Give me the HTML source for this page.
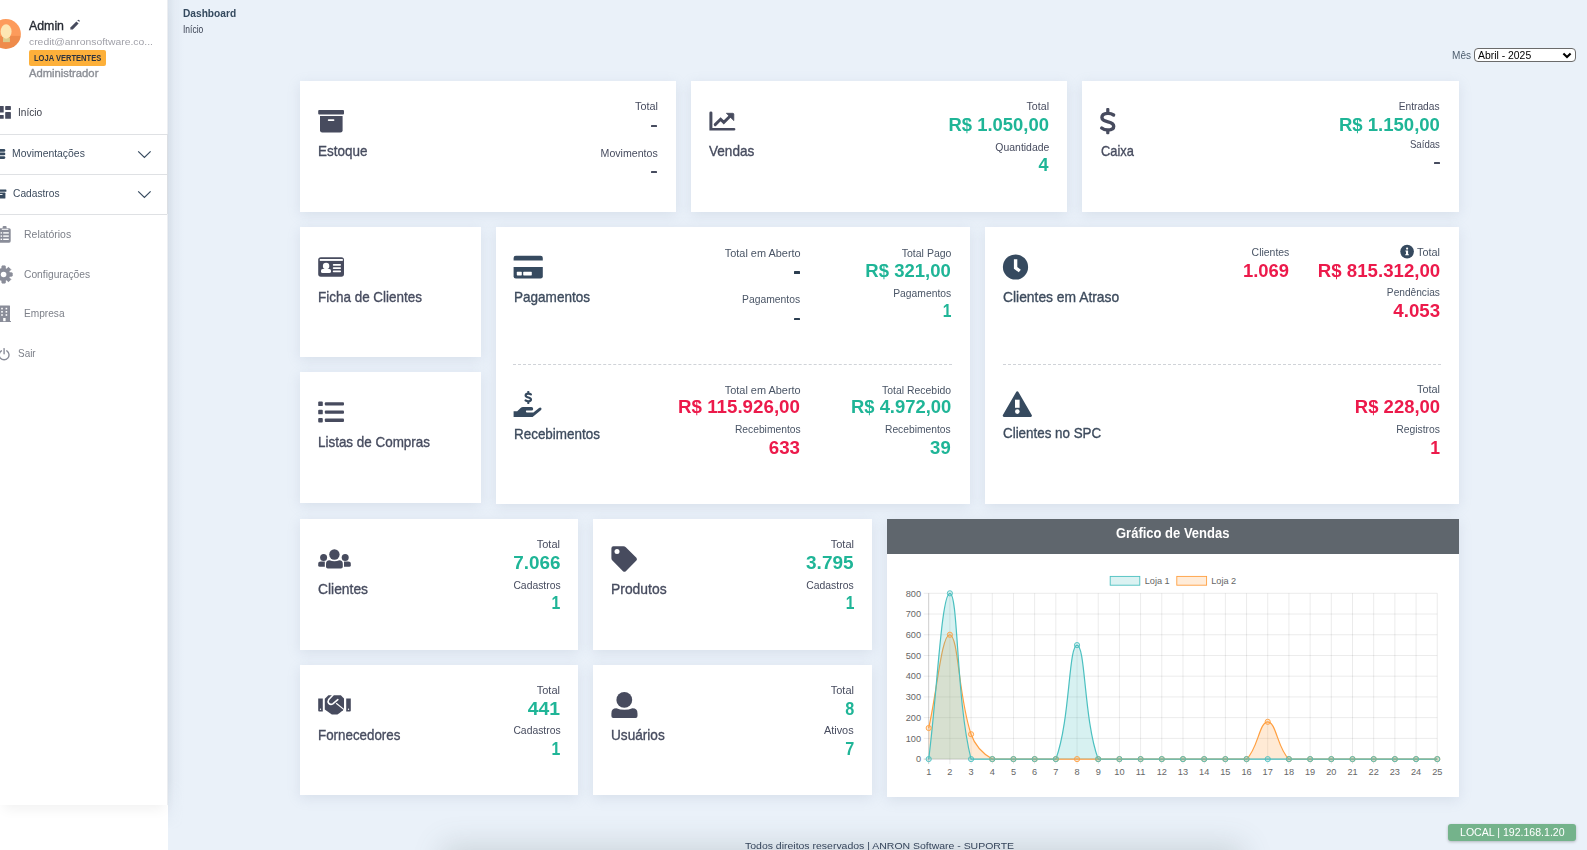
<!DOCTYPE html>
<html><head><meta charset="utf-8"><title>Dashboard</title>
<style>
*{margin:0;padding:0;box-sizing:border-box}
html,body{width:1587px;height:850px;overflow:hidden}
body{background:#fff;font-family:"Liberation Sans",sans-serif;position:relative}
.t{position:absolute;white-space:nowrap;line-height:1}
.card{position:absolute;background:#fff;box-shadow:0 3px 12px rgba(140,155,180,.2)}
.ic{position:absolute;overflow:visible}
.dash{position:absolute;height:0;border-top:1px dashed #d0d3d8}
.sel{position:absolute;border:1px solid #6b6b6b;border-radius:4px;background:#fff}
#sidebar{position:absolute;left:0;top:0;width:168px;height:805px;background:#fff;border-right:1px solid #eceef1;box-shadow:0 8px 12px -4px rgba(0,0,0,.06)}
#main{position:absolute;left:168px;top:0;width:1419px;height:850px;background:#eaf1f9;}
#mshadow{position:absolute;left:168px;top:0;width:16px;height:830px;background:linear-gradient(to right,rgba(140,155,175,.17),rgba(140,155,175,.06) 40%,rgba(140,155,175,0));-webkit-mask-image:linear-gradient(to bottom,#000 0,#000 780px,transparent 830px)}
.hl{position:absolute;left:0;width:167px;height:1px;background:#dfe1e4}
#ov{position:absolute;left:0;top:0;pointer-events:none}
.ax{font-family:"Liberation Sans",sans-serif;font-size:9.2px;fill:#666}
</style></head><body>
<div id="main"></div><div id="mshadow"></div>
<div id="sidebar"></div>
<div class="hl" style="top:134px"></div><div class="hl" style="top:174px"></div><div class="hl" style="top:213.5px"></div><div style="position:absolute;left:167px;top:134px;width:1px;height:80px;background:#dcdfe3"></div>
<div class="card" style="left:300px;top:81px;width:376px;height:131px;"></div>
<div class="card" style="left:691px;top:81px;width:376px;height:131px;"></div>
<div class="card" style="left:1082px;top:81px;width:377px;height:131px;"></div>
<div class="card" style="left:300px;top:227px;width:181px;height:130px;"></div>
<div class="card" style="left:300px;top:372px;width:181px;height:131px;"></div>
<div class="card" style="left:496px;top:227px;width:474px;height:277px;"></div>
<div class="card" style="left:985px;top:227px;width:474px;height:277px;"></div>
<div class="card" style="left:300px;top:519px;width:278px;height:131px;"></div>
<div class="card" style="left:593px;top:519px;width:279px;height:131px;"></div>
<div class="card" style="left:300px;top:665px;width:278px;height:130px;"></div>
<div class="card" style="left:593px;top:665px;width:279px;height:130px;"></div>
<div class="card" style="left:887px;top:519px;width:572px;height:278px;"></div>
<div class="t" style="left:182.70px;top:8.15px;font-size:11.05px;font-weight:700;color:#34495e;transform:scaleX(0.9203);transform-origin:left 0;">Dashboard</div>
<div class="t" style="left:182.70px;top:24.91px;font-size:10.03px;font-weight:400;color:#3c4455;transform:scaleX(0.8469);transform-origin:left 0;">Início</div>
<div class="t" style="left:1452.00px;top:50.32px;font-size:10.61px;font-weight:400;color:#4d5d6e;transform:scaleX(0.9478);transform-origin:left 0;">Mês</div>
<div class="sel" style="left:1474px;top:48px;width:102px;height:14px;"></div>
<div class="t" style="left:1478.00px;top:49.50px;font-size:11.34px;font-weight:400;color:#000;transform:scaleX(0.9176);transform-origin:left 0;">Abril - 2025</div>
<div class="t" style="left:318.00px;top:143.53px;font-size:14.97px;font-weight:400;color:#474c5f;transform:scaleX(0.8992);transform-origin:left 0;-webkit-text-stroke:0.35px #474c5f;">Estoque</div>
<div class="t" style="right:929.00px;top:101.27px;font-size:10.90px;font-weight:400;color:#474c5f;transform:scaleX(0.9988);transform-origin:right 0;">Total</div>
<div style="position:absolute;left:651.3px;top:125px;width:5.7000000000000455px;height:2.4000000000000057px;background:#474c5f;border-radius:.5px"></div>
<div class="t" style="right:929.00px;top:148.27px;font-size:10.90px;font-weight:400;color:#474c5f;transform:scaleX(0.9734);transform-origin:right 0;">Movimentos</div>
<div style="position:absolute;left:651.3px;top:170.6px;width:5.7000000000000455px;height:2.4000000000000057px;background:#474c5f;border-radius:.5px"></div>
<div class="t" style="left:709.00px;top:143.53px;font-size:14.97px;font-weight:400;color:#474c5f;transform:scaleX(0.9069);transform-origin:left 0;-webkit-text-stroke:0.35px #474c5f;">Vendas</div>
<div class="t" style="right:538.00px;top:101.27px;font-size:10.90px;font-weight:400;color:#474c5f;transform:scaleX(0.9771);transform-origin:right 0;">Total</div>
<div class="t" style="right:538.00px;top:116.01px;font-size:18.90px;font-weight:700;color:#1fb597;transform:scaleX(0.9761);transform-origin:right 0;">R$ 1.050,00</div>
<div class="t" style="right:538.00px;top:142.27px;font-size:10.90px;font-weight:400;color:#474c5f;transform:scaleX(0.9580);transform-origin:right 0;">Quantidade</div>
<div class="t" style="right:538.00px;top:156.01px;font-size:18.90px;font-weight:700;color:#1fb597;transform:scaleX(0.9516);transform-origin:right 0;">4</div>
<div class="t" style="left:1100.80px;top:143.73px;font-size:14.97px;font-weight:400;color:#474c5f;transform:scaleX(0.8595);transform-origin:left 0;-webkit-text-stroke:0.35px #474c5f;">Caixa</div>
<div class="t" style="right:147.00px;top:101.27px;font-size:10.90px;font-weight:400;color:#474c5f;transform:scaleX(0.9397);transform-origin:right 0;">Entradas</div>
<div class="t" style="right:147.00px;top:116.01px;font-size:18.90px;font-weight:700;color:#1fb597;transform:scaleX(0.9810);transform-origin:right 0;">R$ 1.150,00</div>
<div class="t" style="right:147.00px;top:139.27px;font-size:10.90px;font-weight:400;color:#474c5f;transform:scaleX(0.8839);transform-origin:right 0;">Saídas</div>
<div style="position:absolute;left:1434.2px;top:162px;width:5.7999999999999545px;height:2.4000000000000057px;background:#474c5f;border-radius:.5px"></div>
<div class="t" style="left:318.00px;top:290.43px;font-size:14.97px;font-weight:400;color:#474c5f;transform:scaleX(0.8991);transform-origin:left 0;-webkit-text-stroke:0.35px #474c5f;">Ficha de Clientes</div>
<div class="t" style="left:318.00px;top:435.33px;font-size:14.97px;font-weight:400;color:#474c5f;transform:scaleX(0.8973);transform-origin:left 0;-webkit-text-stroke:0.35px #474c5f;">Listas de Compras</div>
<div class="t" style="left:513.50px;top:290.43px;font-size:14.97px;font-weight:400;color:#3d4b5d;transform:scaleX(0.9041);transform-origin:left 0;-webkit-text-stroke:0.35px #3d4b5d;">Pagamentos</div>
<div class="t" style="left:513.50px;top:427.03px;font-size:14.97px;font-weight:400;color:#3d4b5d;transform:scaleX(0.8976);transform-origin:left 0;-webkit-text-stroke:0.35px #3d4b5d;">Recebimentos</div>
<div class="t" style="right:786.70px;top:247.67px;font-size:10.90px;font-weight:400;color:#4a5566;transform:scaleX(1.0034);transform-origin:right 0;">Total em Aberto</div>
<div style="position:absolute;left:793.9px;top:271.4px;width:6.100000000000023px;height:2.6000000000000227px;background:#2c3e50;border-radius:.5px"></div>
<div class="t" style="right:786.70px;top:293.77px;font-size:10.90px;font-weight:400;color:#4a5566;transform:scaleX(0.9492);transform-origin:right 0;">Pagamentos</div>
<div style="position:absolute;left:793.9px;top:317.5px;width:6.100000000000023px;height:2.6000000000000227px;background:#2c3e50;border-radius:.5px"></div>
<div class="t" style="right:636.00px;top:247.67px;font-size:10.90px;font-weight:400;color:#4a5566;transform:scaleX(0.9667);transform-origin:right 0;">Total Pago</div>
<div class="t" style="right:636.00px;top:262.15px;font-size:18.60px;font-weight:700;color:#1fb597;transform:scaleX(0.9958);transform-origin:right 0;">R$ 321,00</div>
<div class="t" style="right:636.00px;top:287.97px;font-size:10.90px;font-weight:400;color:#4a5566;transform:scaleX(0.9476);transform-origin:right 0;">Pagamentos</div>
<div class="t" style="right:636.00px;top:302.05px;font-size:18.60px;font-weight:700;color:#1fb597;transform:scaleX(0.8408);transform-origin:right 0;">1</div>
<div class="t" style="right:786.70px;top:384.57px;font-size:10.90px;font-weight:400;color:#4a5566;transform:scaleX(1.0034);transform-origin:right 0;">Total em Aberto</div>
<div class="t" style="right:786.70px;top:398.25px;font-size:18.60px;font-weight:700;color:#ec1a4b;transform:scaleX(1.0087);transform-origin:right 0;">R$ 115.926,00</div>
<div class="t" style="right:786.70px;top:424.37px;font-size:10.90px;font-weight:400;color:#4a5566;transform:scaleX(0.9443);transform-origin:right 0;">Recebimentos</div>
<div class="t" style="right:786.70px;top:438.85px;font-size:18.60px;font-weight:700;color:#ec1a4b;transform:scaleX(1.0083);transform-origin:right 0;">633</div>
<div class="t" style="right:636.00px;top:384.57px;font-size:10.90px;font-weight:400;color:#4a5566;transform:scaleX(0.9568);transform-origin:right 0;">Total Recebido</div>
<div class="t" style="right:636.00px;top:398.25px;font-size:18.60px;font-weight:700;color:#1fb597;transform:scaleX(0.9904);transform-origin:right 0;">R$ 4.972,00</div>
<div class="t" style="right:636.00px;top:424.37px;font-size:10.90px;font-weight:400;color:#4a5566;transform:scaleX(0.9428);transform-origin:right 0;">Recebimentos</div>
<div class="t" style="right:636.00px;top:438.85px;font-size:18.60px;font-weight:700;color:#1fb597;transform:scaleX(0.9954);transform-origin:right 0;">39</div>
<div class="dash" style="left:513px;top:364px;width:439px;"></div>
<div class="t" style="left:1003.00px;top:289.73px;font-size:14.97px;font-weight:400;color:#3d4b5d;transform:scaleX(0.9248);transform-origin:left 0;-webkit-text-stroke:0.35px #3d4b5d;">Clientes em Atraso</div>
<div class="t" style="left:1003.00px;top:426.23px;font-size:14.97px;font-weight:400;color:#3d4b5d;transform:scaleX(0.8940);transform-origin:left 0;-webkit-text-stroke:0.35px #3d4b5d;">Clientes no SPC</div>
<div class="t" style="right:297.70px;top:247.47px;font-size:10.90px;font-weight:400;color:#4a5566;transform:scaleX(0.9598);transform-origin:right 0;">Clientes</div>
<div class="t" style="right:297.70px;top:262.44px;font-size:18.02px;font-weight:700;color:#ec1a4b;transform:scaleX(1.0221);transform-origin:right 0;">1.069</div>
<div class="t" style="right:146.60px;top:247.47px;font-size:10.90px;font-weight:400;color:#4a5566;transform:scaleX(0.9988);transform-origin:right 0;">Total</div>
<div class="t" style="right:146.60px;top:262.44px;font-size:18.02px;font-weight:700;color:#ec1a4b;transform:scaleX(1.0351);transform-origin:right 0;">R$ 815.312,00</div>
<div class="t" style="right:146.60px;top:286.97px;font-size:10.90px;font-weight:400;color:#4a5566;transform:scaleX(0.9320);transform-origin:right 0;">Pendências</div>
<div class="t" style="right:146.60px;top:302.24px;font-size:18.02px;font-weight:700;color:#ec1a4b;transform:scaleX(1.0376);transform-origin:right 0;">4.053</div>
<div class="dash" style="left:1003px;top:364px;width:438px;"></div>
<div class="t" style="right:146.70px;top:383.87px;font-size:10.90px;font-weight:400;color:#4a5566;transform:scaleX(1.0032);transform-origin:right 0;">Total</div>
<div class="t" style="right:146.70px;top:398.14px;font-size:18.02px;font-weight:700;color:#ec1a4b;transform:scaleX(1.0256);transform-origin:right 0;">R$ 228,00</div>
<div class="t" style="right:146.70px;top:423.77px;font-size:10.90px;font-weight:400;color:#4a5566;transform:scaleX(0.9534);transform-origin:right 0;">Registros</div>
<div class="t" style="right:146.70px;top:438.74px;font-size:18.02px;font-weight:700;color:#ec1a4b;transform:scaleX(0.9777);transform-origin:right 0;">1</div>
<div class="t" style="left:318.00px;top:581.83px;font-size:14.97px;font-weight:400;color:#474c5f;transform:scaleX(0.9244);transform-origin:left 0;-webkit-text-stroke:0.35px #474c5f;">Clientes</div>
<div class="t" style="right:1026.70px;top:538.77px;font-size:10.90px;font-weight:400;color:#474c5f;transform:scaleX(1.0119);transform-origin:right 0;">Total</div>
<div class="t" style="right:1026.70px;top:553.95px;font-size:18.60px;font-weight:700;color:#1fb597;transform:scaleX(1.0159);transform-origin:right 0;">7.066</div>
<div class="t" style="right:1026.70px;top:579.67px;font-size:10.90px;font-weight:400;color:#474c5f;transform:scaleX(0.9520);transform-origin:right 0;">Cadastros</div>
<div class="t" style="right:1026.70px;top:593.75px;font-size:18.60px;font-weight:700;color:#1fb597;transform:scaleX(0.8505);transform-origin:right 0;">1</div>
<div class="t" style="left:611.00px;top:581.83px;font-size:14.97px;font-weight:400;color:#474c5f;transform:scaleX(0.9279);transform-origin:left 0;-webkit-text-stroke:0.35px #474c5f;">Produtos</div>
<div class="t" style="right:733.00px;top:538.77px;font-size:10.90px;font-weight:400;color:#474c5f;transform:scaleX(1.0119);transform-origin:right 0;">Total</div>
<div class="t" style="right:733.00px;top:553.95px;font-size:18.60px;font-weight:700;color:#1fb597;transform:scaleX(1.0202);transform-origin:right 0;">3.795</div>
<div class="t" style="right:733.00px;top:579.67px;font-size:10.90px;font-weight:400;color:#474c5f;transform:scaleX(0.9560);transform-origin:right 0;">Cadastros</div>
<div class="t" style="right:733.00px;top:593.75px;font-size:18.60px;font-weight:700;color:#1fb597;transform:scaleX(0.8408);transform-origin:right 0;">1</div>
<div class="t" style="left:318.00px;top:727.53px;font-size:14.97px;font-weight:400;color:#474c5f;transform:scaleX(0.8920);transform-origin:left 0;-webkit-text-stroke:0.35px #474c5f;">Fornecedores</div>
<div class="t" style="right:1026.70px;top:685.27px;font-size:10.90px;font-weight:400;color:#474c5f;transform:scaleX(1.0119);transform-origin:right 0;">Total</div>
<div class="t" style="right:1026.70px;top:700.05px;font-size:18.60px;font-weight:700;color:#1fb597;transform:scaleX(1.0405);transform-origin:right 0;">441</div>
<div class="t" style="right:1026.70px;top:725.37px;font-size:10.90px;font-weight:400;color:#474c5f;transform:scaleX(0.9520);transform-origin:right 0;">Cadastros</div>
<div class="t" style="right:1026.70px;top:739.85px;font-size:18.60px;font-weight:700;color:#1fb597;transform:scaleX(0.8505);transform-origin:right 0;">1</div>
<div class="t" style="left:611.00px;top:727.53px;font-size:14.97px;font-weight:400;color:#474c5f;transform:scaleX(0.9090);transform-origin:left 0;-webkit-text-stroke:0.35px #474c5f;">Usuários</div>
<div class="t" style="right:733.00px;top:685.27px;font-size:10.90px;font-weight:400;color:#474c5f;transform:scaleX(1.0119);transform-origin:right 0;">Total</div>
<div class="t" style="right:733.00px;top:700.05px;font-size:18.60px;font-weight:700;color:#1fb597;transform:scaleX(0.8698);transform-origin:right 0;">8</div>
<div class="t" style="right:733.00px;top:725.37px;font-size:10.90px;font-weight:400;color:#474c5f;transform:scaleX(1.0038);transform-origin:right 0;">Ativos</div>
<div class="t" style="right:733.00px;top:739.85px;font-size:18.60px;font-weight:700;color:#1fb597;transform:scaleX(0.8698);transform-origin:right 0;">7</div>
<div style="position:absolute;left:887px;top:519px;width:572px;height:34.5px;background:#5f666d"></div>
<div class="t" style="left:1116.00px;top:525.73px;font-size:14.97px;font-weight:700;color:#fff;transform:scaleX(0.8681);transform-origin:left 0;">Gráfico de Vendas</div>
<div class="t" style="left:29.00px;top:19.43px;font-size:13.08px;font-weight:400;color:#262a33;transform:scaleX(0.9439);transform-origin:left 0;-webkit-text-stroke:0.35px #262a33;">Admin</div>
<div class="t" style="left:29.00px;top:36.93px;font-size:9.88px;font-weight:400;color:#a0a0a8;transform:scaleX(1.0485);transform-origin:left 0;">credit@anronsoftware.co...</div>
<div style="position:absolute;left:29px;top:50.2px;width:77px;height:15.5px;background:#fdb03a;border-radius:2px"></div>
<div class="t" style="left:33.70px;top:54.36px;font-size:8.43px;font-weight:700;color:#2e3440;transform:scaleX(0.8961);transform-origin:left 0;">LOJA VERTENTES</div>
<div class="t" style="left:29.00px;top:68.89px;font-size:10.17px;font-weight:400;color:#8c8f96;transform:scaleX(1.1072);transform-origin:left 0;-webkit-text-stroke:0.35px #8c8f96;">Administrador</div>
<div class="t" style="left:17.60px;top:107.10px;font-size:11.34px;font-weight:400;color:#3a3d48;transform:scaleX(0.8894);transform-origin:left 0;">Início</div>
<div class="t" style="left:11.60px;top:147.90px;font-size:11.34px;font-weight:400;color:#3d4b5d;transform:scaleX(0.9182);transform-origin:left 0;">Movimentações</div>
<div class="t" style="left:12.70px;top:187.60px;font-size:11.34px;font-weight:400;color:#3d4b5d;transform:scaleX(0.9018);transform-origin:left 0;">Cadastros</div>
<div class="t" style="left:23.80px;top:228.90px;font-size:11.34px;font-weight:400;color:#7d8089;transform:scaleX(0.9247);transform-origin:left 0;">Relatórios</div>
<div class="t" style="left:23.80px;top:268.90px;font-size:11.34px;font-weight:400;color:#7d8089;transform:scaleX(0.9055);transform-origin:left 0;">Configurações</div>
<div class="t" style="left:23.80px;top:307.90px;font-size:11.34px;font-weight:400;color:#7d8089;transform:scaleX(0.8949);transform-origin:left 0;">Empresa</div>
<div class="t" style="left:17.60px;top:347.90px;font-size:11.34px;font-weight:400;color:#7d8089;transform:scaleX(0.8779);transform-origin:left 0;">Sair</div>
<div style="position:absolute;left:450px;top:853px;width:785px;height:40px;background:#d3dadc;box-shadow:0 0 30px 8px rgba(80,98,98,.2)"></div>
<div class="t" style="left:744.50px;top:840.68px;font-size:9.59px;font-weight:400;color:#34445a;transform:scaleX(1.0933);transform-origin:left 0;">Todos direitos reservados | ANRON Software - SUPORTE</div>
<div style="position:absolute;left:1448px;top:824px;width:128px;height:17px;background:#74b38b;border-radius:3px;box-shadow:0 1px 3px rgba(0,0,0,.25)"></div>
<div class="t" style="left:1459.50px;top:827.12px;font-size:10.61px;font-weight:400;color:#fff;transform:scaleX(0.9961);transform-origin:left 0;">LOCAL | 192.168.1.20</div>
<svg id="ov" width="1587" height="850" viewBox="0 0 1587 850"><rect x="318.2" y="110" width="25.8" height="4.6" rx="1" fill="#474b5e"/>
<path d="M320 116.1 H342.6 V130.3 Q342.6 132.5 340.4 132.5 H322.2 Q320 132.5 320 130.3 Z" fill="#474b5e"/>
<rect x="327.8" y="119.3" width="6.6" height="1.7" rx=".8" fill="#fff"/>
<path d="M709.4 112.8 Q709.4 111.4 710.9 111.4 Q712.4 111.4 712.4 112.8 V128 H734 Q735.4 128 735.4 129.3 Q735.4 130.6 734 130.6 H709.4 Z" fill="#474b5e"/>
<polyline points="715.2,124.6 720.6,119.2 723.8,122.4 730.5,115.7" fill="none" stroke="#474b5e" stroke-width="2.9" stroke-linecap="round" stroke-linejoin="miter"/>
<path d="M726.4 113.3 H732.8 Q733.8 113.3 733.8 114.3 V120.6 Z" fill="#474b5e" stroke="#474b5e" stroke-width="0.8" stroke-linejoin="round"/>
<path d="M1113.60 114.97 C1111.80 113.75 1109.60 113.31 1107.60 113.40 C1103.80 113.57 1101.90 115.32 1101.90 117.50 C1101.90 120.30 1104.80 121.00 1108.00 121.79 C1111.60 122.66 1113.70 123.80 1113.70 126.24 C1113.70 128.78 1111.10 130.00 1107.90 130.00 C1105.60 130.00 1103.20 129.39 1101.70 128.08" fill="none" stroke="#474b5e" stroke-width="3.4" stroke-linecap="round"/>
<rect x="1106.2" y="107.9" width="3.2" height="5" rx="1" fill="#474b5e"/>
<rect x="1106.2" y="129.6" width="3.2" height="4.6" rx="1" fill="#474b5e"/>
<rect x="318.2" y="257.2" width="25.8" height="19.5" rx="2.6" fill="#474b5e"/>
<rect x="319.8" y="259" width="23" height="1.9" fill="#fff"/>
<circle cx="326.1" cy="265.9" r="3.2" fill="#fff"/>
<rect x="321" y="268.9" width="10" height="4.2" rx="1.6" fill="#fff"/>
<rect x="332.8" y="264.1" width="8.2" height="1.7" rx=".8" fill="#fff"/>
<rect x="332.8" y="267.3" width="8.2" height="1.7" rx=".8" fill="#fff"/>
<rect x="332.8" y="270.5" width="8.2" height="1.7" rx=".8" fill="#fff"/>
<rect x="318.2" y="401.6" width="4.6" height="4.5" rx=".9" fill="#474b5e"/>
<rect x="324.8" y="402.2" width="19.2" height="3.4" rx="1" fill="#474b5e"/>
<rect x="318.2" y="409.8" width="4.6" height="4.5" rx=".9" fill="#474b5e"/>
<rect x="324.8" y="410.4" width="19.2" height="3.4" rx="1" fill="#474b5e"/>
<rect x="318.2" y="418" width="4.6" height="4.5" rx=".9" fill="#474b5e"/>
<rect x="324.8" y="418.6" width="19.2" height="3.4" rx="1" fill="#474b5e"/>
<path d="M513.6 258 Q513.6 255.8 515.8 255.8 H540.6 Q542.8 255.8 542.8 258 V260.5 H513.6 Z" fill="#364a5f"/>
<path d="M513.6 267 H542.8 V276.2 Q542.8 278.4 540.6 278.4 H515.8 Q513.6 278.4 513.6 276.2 Z" fill="#364a5f"/>
<rect x="516.8" y="271.8" width="5" height="3.6" rx=".6" fill="#fff"/>
<rect x="523.2" y="271.8" width="8.6" height="3.6" rx=".6" fill="#fff"/>
<path d="M530.91 394.42 C530.10 393.86 529.11 393.66 528.21 393.70 C526.50 393.78 525.64 394.58 525.64 395.58 C525.64 396.86 526.95 397.18 528.39 397.54 C530.01 397.94 530.96 398.46 530.96 399.58 C530.96 400.74 529.78 401.30 528.35 401.30 C527.31 401.30 526.23 401.02 525.55 400.42" fill="none" stroke="#364a5f" stroke-width="2.2" stroke-linecap="round"/>
<rect x="527.3" y="390.9" width="2" height="2.8" rx=".6" fill="#364a5f"/>
<rect x="527.3" y="401.2" width="2" height="2.8" rx=".6" fill="#364a5f"/>
<path d="M513.6 411.2 H517.2 L520.6 408 Q521.6 407.1 523 407.1 H531.4 Q533.2 407.1 533.2 408.9 Q533.2 410.6 531.4 410.6 H526.4 Q525.9 410.6 525.9 411.4 Q525.9 412.4 527 412.4 H533.4 L539 407.9 Q540.4 406.9 541.3 408 Q542 409.2 540.8 410.3 L532.6 416.9 H513.6 Z" fill="#364a5f"/>
<circle cx="1015.5" cy="267" r="12.6" fill="#364a5f"/>
<path d="M1015.6 259.3 V267.8 L1019.8 271" fill="none" stroke="#fff" stroke-width="3.4" stroke-linejoin="miter"/>
<path d="M1017.3 392.6 L1030.6 415.6 H1004 Z" fill="#364a5f" stroke="#364a5f" stroke-width="2.6" stroke-linejoin="round"/>
<rect x="1015" y="399.7" width="4.6" height="8.1" fill="#fff"/>
<circle cx="1017.3" cy="411.6" r="2.3" fill="#fff"/>
<circle cx="1407.1" cy="251.6" r="6.8" fill="#364a5f"/>
<circle cx="1407.1" cy="248.6" r="1.1" fill="#fff"/>
<path d="M1405.4 250.6 H1408.1 V254.2 H1408.9 V255.3 H1405.2 V254.2 H1406 V251.6 H1405.4 Z" fill="#fff"/>
<circle cx="334.4" cy="554.5" r="5.2" fill="#474b5e"/>
<path d="M326 564 Q326 560.3 329.5 560.3 Q331.8 561.3 334.4 561.3 Q337 561.3 339.3 560.3 Q342.8 560.3 342.8 564 V566.8 Q342.8 568.6 341 568.6 H327.8 Q326 568.6 326 566.8 Z" fill="#474b5e"/>
<circle cx="323.6" cy="557.6" r="3.5" fill="#474b5e"/>
<circle cx="345.2" cy="557.6" r="3.5" fill="#474b5e"/>
<path d="M318.2 564 Q318.2 561.6 320.8 561.6 H324.8 V566.8 H319.8 Q318.2 566.8 318.2 565.2 Z" fill="#474b5e"/>
<path d="M344 561.6 H348.2 Q350.8 561.6 350.8 564 V565.2 Q350.8 566.8 349.2 566.8 H344 Z" fill="#474b5e"/>
<path d="M613.4 546.2 H623.4 Q624.8 546.2 625.8 547.2 L636.4 557.8 Q637.6 559.2 636.4 560.6 L625.8 571.2 Q624.4 572.4 623 571.2 L612.4 560.6 Q611.4 559.6 611.4 558.2 V548.2 Q611.4 546.2 613.4 546.2 Z" fill="#474b5e"/>
<circle cx="617" cy="551.6" r="2.5" fill="#fff"/>
<path d="M318.2 698.6 H322.8 V711.6 H319.2 Q318.2 711.6 318.2 710.6 Z" fill="#474b5e"/>
<path d="M346.2 698.6 H350.8 V710.6 Q350.8 711.6 349.8 711.6 H346.2 Z" fill="#474b5e"/>
<circle cx="320.5" cy="709.2" r=".7" fill="#fff"/>
<circle cx="348.5" cy="709.2" r=".7" fill="#fff"/>
<path d="M324.8 698.8 L328.4 695.2 H340.8 L344 698.6 V708.2 L343 710.2 L339.6 713 L337.4 714.6 H331.8 L324.8 709.6 Z" fill="#474b5e"/>
<path d="M333 695 L328.8 699.4 Q327.4 701.6 328.8 703.4 Q330.6 705.2 332.8 703.8 L337.8 699.6" fill="none" stroke="#fff" stroke-width="1.6" stroke-linecap="round"/>
<path d="M336.2 703.2 L343.8 709.4" fill="none" stroke="#fff" stroke-width="1.2"/>
<circle cx="624.3" cy="699.9" r="7.9" fill="#474b5e"/>
<path d="M611.4 713.4 Q611.4 708.3 616.4 708.3 Q620 709.8 624.4 709.8 Q628.8 709.8 632.4 708.3 Q637.5 708.3 637.5 713.4 V716 Q637.5 717.9 635.6 717.9 H613.3 Q611.4 717.9 611.4 716 Z" fill="#474b5e"/>
<clipPath id="av"><circle cx="5.9" cy="34" r="15"/></clipPath>
<g clip-path="url(#av)"><rect x="-10" y="18" width="32" height="18" fill="#fd9b5b"/><rect x="-10" y="35.9" width="32" height="14" fill="#ef8b4b"/><rect x="3" y="37.5" width="6.9" height="4.6" fill="#dccb8a"/><ellipse cx="6.1" cy="31.5" rx="5.5" ry="7.2" fill="#fde6b2"/></g>
<path d="M70.2 29.6 L70.6 27.2 L76.4 21.4 L78.6 23.6 L72.8 29.4 Z" fill="#474b5e"/>
<path d="M77.2 20.6 L78 19.9 Q78.5 19.5 79 20 L79.6 20.6 Q80 21.1 79.6 21.6 L79.4 21.8 Z" fill="#474b5e"/>
<rect x="-3" y="106.1" width="6.7" height="6.5" rx=".4" fill="#474b5e"/>
<rect x="-3" y="115.1" width="6.7" height="3.7" rx=".4" fill="#474b5e"/>
<rect x="5.2" y="106.1" width="5.7" height="3.8" rx=".4" fill="#474b5e"/>
<rect x="5.2" y="112.1" width="5.7" height="6.7" rx=".4" fill="#474b5e"/>
<rect x="-6" y="149" width="11.3" height="2.7" rx="1.3" fill="#364a5f"/>
<rect x="-6" y="152.6" width="11.3" height="2.7" rx="1.3" fill="#364a5f"/>
<rect x="-6" y="156.2" width="11.3" height="2.7" rx="1.3" fill="#364a5f"/>
<rect x="-5" y="189.6" width="11.4" height="2.2" rx=".5" fill="#364a5f"/>
<rect x="-4" y="192.6" width="9.4" height="5.9" rx=".6" fill="#364a5f"/>
<rect x="0" y="194" width="2.5" height=".9" fill="#fff"/>
<polyline points="138.2,151.3 144.4,157.5 150.6,151.3" fill="none" stroke="#364a5f" stroke-width="1.2"/>
<polyline points="138.2,191.3 144.4,197.5 150.6,191.3" fill="none" stroke="#364a5f" stroke-width="1.2"/>
<rect x="-2" y="228.2" width="12.7" height="14.5" rx="1.6" fill="#8a8d99"/>
<rect x="2.6" y="226" width="4" height="3.4" rx="1" fill="#8a8d99"/>
<rect x="1.8" y="228.8" width="6.6" height="1" fill="#fff"/>
<rect x="0.6" y="232.2" width="1.5" height="1.4" fill="#fff"/>
<rect x="3.2" y="232.2" width="5.6" height="1.4" fill="#fff"/>
<rect x="0.6" y="235.4" width="1.5" height="1.4" fill="#fff"/>
<rect x="3.2" y="235.4" width="5.6" height="1.4" fill="#fff"/>
<rect x="0.6" y="238.6" width="1.5" height="1.4" fill="#fff"/>
<rect x="3.2" y="238.6" width="5.6" height="1.4" fill="#fff"/>
<path d="M9.56 272.79 L12.16 272.94 L12.16 276.06 L9.56 276.21 L9.02 277.50 L10.75 279.45 L8.55 281.65 L6.60 279.92 L5.31 280.46 L5.16 283.06 L2.04 283.06 L1.89 280.46 L0.60 279.92 L-1.35 281.65 L-3.55 279.45 L-1.82 277.50 L-2.36 276.21 L-4.96 276.06 L-4.96 272.94 L-2.36 272.79 L-1.82 271.50 L-3.55 269.55 L-1.35 267.35 L0.60 269.08 L1.89 268.54 L2.04 265.94 L5.16 265.94 L5.31 268.54 L6.60 269.08 L8.55 267.35 L10.75 269.55 L9.02 271.50 Z" fill="#8a8d99" stroke="#8a8d99" stroke-width="1" stroke-linejoin="round"/>
<circle cx="3.6" cy="274.5" r="2.8" fill="#fff"/>
<rect x="-1" y="305.5" width="11" height="16.5" rx=".5" fill="#8a8d99"/>
<rect x="-1" y="321" width="12" height="1" fill="#8a8d99"/>
<rect x="1.2" y="307.8" width="1.6" height="1.6" fill="#fff"/>
<rect x="5.6" y="307.8" width="1.6" height="1.6" fill="#fff"/>
<rect x="1.2" y="311" width="1.6" height="1.6" fill="#fff"/>
<rect x="5.6" y="311" width="1.6" height="1.6" fill="#fff"/>
<rect x="1.2" y="314.2" width="1.6" height="1.6" fill="#fff"/>
<rect x="5.6" y="314.2" width="1.6" height="1.6" fill="#fff"/>
<rect x="3.2" y="318" width="2.4" height="3.2" fill="#fff"/>
<path d="M1.4 350.8 A4.9 4.9 0 1 0 6.8 350.8" fill="none" stroke="#8a8d99" stroke-width="1.4" stroke-linecap="round"/>
<line x1="4.1" y1="348.6" x2="4.1" y2="353.8" stroke="#8a8d99" stroke-width="1.4" stroke-linecap="round"/>
<path d="M1563.4 53.4 L1567 57 L1570.6 53.4" stroke="#000" stroke-width="2.1" fill="none"/><line x1="923.70" y1="759.10" x2="1437.26" y2="759.10" stroke="rgba(0,0,0,0.25)" stroke-width="0.8"/>
<line x1="923.70" y1="738.38" x2="1437.26" y2="738.38" stroke="rgba(0,0,0,0.1)" stroke-width="0.8"/>
<line x1="923.70" y1="717.65" x2="1437.26" y2="717.65" stroke="rgba(0,0,0,0.1)" stroke-width="0.8"/>
<line x1="923.70" y1="696.93" x2="1437.26" y2="696.93" stroke="rgba(0,0,0,0.1)" stroke-width="0.8"/>
<line x1="923.70" y1="676.20" x2="1437.26" y2="676.20" stroke="rgba(0,0,0,0.1)" stroke-width="0.8"/>
<line x1="923.70" y1="655.48" x2="1437.26" y2="655.48" stroke="rgba(0,0,0,0.1)" stroke-width="0.8"/>
<line x1="923.70" y1="634.75" x2="1437.26" y2="634.75" stroke="rgba(0,0,0,0.1)" stroke-width="0.8"/>
<line x1="923.70" y1="614.02" x2="1437.26" y2="614.02" stroke="rgba(0,0,0,0.1)" stroke-width="0.8"/>
<line x1="923.70" y1="593.30" x2="1437.26" y2="593.30" stroke="rgba(0,0,0,0.1)" stroke-width="0.8"/>
<line x1="928.70" y1="593.30" x2="928.70" y2="764.10" stroke="rgba(0,0,0,0.25)" stroke-width="0.8"/>
<line x1="949.89" y1="593.30" x2="949.89" y2="764.10" stroke="rgba(0,0,0,0.1)" stroke-width="0.8"/>
<line x1="971.08" y1="593.30" x2="971.08" y2="764.10" stroke="rgba(0,0,0,0.1)" stroke-width="0.8"/>
<line x1="992.27" y1="593.30" x2="992.27" y2="764.10" stroke="rgba(0,0,0,0.1)" stroke-width="0.8"/>
<line x1="1013.46" y1="593.30" x2="1013.46" y2="764.10" stroke="rgba(0,0,0,0.1)" stroke-width="0.8"/>
<line x1="1034.65" y1="593.30" x2="1034.65" y2="764.10" stroke="rgba(0,0,0,0.1)" stroke-width="0.8"/>
<line x1="1055.84" y1="593.30" x2="1055.84" y2="764.10" stroke="rgba(0,0,0,0.1)" stroke-width="0.8"/>
<line x1="1077.03" y1="593.30" x2="1077.03" y2="764.10" stroke="rgba(0,0,0,0.1)" stroke-width="0.8"/>
<line x1="1098.22" y1="593.30" x2="1098.22" y2="764.10" stroke="rgba(0,0,0,0.1)" stroke-width="0.8"/>
<line x1="1119.41" y1="593.30" x2="1119.41" y2="764.10" stroke="rgba(0,0,0,0.1)" stroke-width="0.8"/>
<line x1="1140.60" y1="593.30" x2="1140.60" y2="764.10" stroke="rgba(0,0,0,0.1)" stroke-width="0.8"/>
<line x1="1161.79" y1="593.30" x2="1161.79" y2="764.10" stroke="rgba(0,0,0,0.1)" stroke-width="0.8"/>
<line x1="1182.98" y1="593.30" x2="1182.98" y2="764.10" stroke="rgba(0,0,0,0.1)" stroke-width="0.8"/>
<line x1="1204.17" y1="593.30" x2="1204.17" y2="764.10" stroke="rgba(0,0,0,0.1)" stroke-width="0.8"/>
<line x1="1225.36" y1="593.30" x2="1225.36" y2="764.10" stroke="rgba(0,0,0,0.1)" stroke-width="0.8"/>
<line x1="1246.55" y1="593.30" x2="1246.55" y2="764.10" stroke="rgba(0,0,0,0.1)" stroke-width="0.8"/>
<line x1="1267.74" y1="593.30" x2="1267.74" y2="764.10" stroke="rgba(0,0,0,0.1)" stroke-width="0.8"/>
<line x1="1288.93" y1="593.30" x2="1288.93" y2="764.10" stroke="rgba(0,0,0,0.1)" stroke-width="0.8"/>
<line x1="1310.12" y1="593.30" x2="1310.12" y2="764.10" stroke="rgba(0,0,0,0.1)" stroke-width="0.8"/>
<line x1="1331.31" y1="593.30" x2="1331.31" y2="764.10" stroke="rgba(0,0,0,0.1)" stroke-width="0.8"/>
<line x1="1352.50" y1="593.30" x2="1352.50" y2="764.10" stroke="rgba(0,0,0,0.1)" stroke-width="0.8"/>
<line x1="1373.69" y1="593.30" x2="1373.69" y2="764.10" stroke="rgba(0,0,0,0.1)" stroke-width="0.8"/>
<line x1="1394.88" y1="593.30" x2="1394.88" y2="764.10" stroke="rgba(0,0,0,0.1)" stroke-width="0.8"/>
<line x1="1416.07" y1="593.30" x2="1416.07" y2="764.10" stroke="rgba(0,0,0,0.1)" stroke-width="0.8"/>
<line x1="1437.26" y1="593.30" x2="1437.26" y2="764.10" stroke="rgba(0,0,0,0.1)" stroke-width="0.8"/>
<text x="921" y="762.30" text-anchor="end" class="ax">0</text>
<text x="921" y="741.58" text-anchor="end" class="ax">100</text>
<text x="921" y="720.85" text-anchor="end" class="ax">200</text>
<text x="921" y="700.13" text-anchor="end" class="ax">300</text>
<text x="921" y="679.40" text-anchor="end" class="ax">400</text>
<text x="921" y="658.68" text-anchor="end" class="ax">500</text>
<text x="921" y="637.95" text-anchor="end" class="ax">600</text>
<text x="921" y="617.23" text-anchor="end" class="ax">700</text>
<text x="921" y="596.50" text-anchor="end" class="ax">800</text>
<text x="928.70" y="774.6" text-anchor="middle" class="ax">1</text>
<text x="949.89" y="774.6" text-anchor="middle" class="ax">2</text>
<text x="971.08" y="774.6" text-anchor="middle" class="ax">3</text>
<text x="992.27" y="774.6" text-anchor="middle" class="ax">4</text>
<text x="1013.46" y="774.6" text-anchor="middle" class="ax">5</text>
<text x="1034.65" y="774.6" text-anchor="middle" class="ax">6</text>
<text x="1055.84" y="774.6" text-anchor="middle" class="ax">7</text>
<text x="1077.03" y="774.6" text-anchor="middle" class="ax">8</text>
<text x="1098.22" y="774.6" text-anchor="middle" class="ax">9</text>
<text x="1119.41" y="774.6" text-anchor="middle" class="ax">10</text>
<text x="1140.60" y="774.6" text-anchor="middle" class="ax">11</text>
<text x="1161.79" y="774.6" text-anchor="middle" class="ax">12</text>
<text x="1182.98" y="774.6" text-anchor="middle" class="ax">13</text>
<text x="1204.17" y="774.6" text-anchor="middle" class="ax">14</text>
<text x="1225.36" y="774.6" text-anchor="middle" class="ax">15</text>
<text x="1246.55" y="774.6" text-anchor="middle" class="ax">16</text>
<text x="1267.74" y="774.6" text-anchor="middle" class="ax">17</text>
<text x="1288.93" y="774.6" text-anchor="middle" class="ax">18</text>
<text x="1310.12" y="774.6" text-anchor="middle" class="ax">19</text>
<text x="1331.31" y="774.6" text-anchor="middle" class="ax">20</text>
<text x="1352.50" y="774.6" text-anchor="middle" class="ax">21</text>
<text x="1373.69" y="774.6" text-anchor="middle" class="ax">22</text>
<text x="1394.88" y="774.6" text-anchor="middle" class="ax">23</text>
<text x="1416.07" y="774.6" text-anchor="middle" class="ax">24</text>
<text x="1437.26" y="774.6" text-anchor="middle" class="ax">25</text>
<path d="M928.70 728.01 C937.18 690.71 941.67 633.54 949.89 634.75 C958.63 636.03 958.25 696.58 971.08 734.23 C975.20 746.32 981.99 753.07 992.27 759.10 C998.94 759.10 1004.98 759.10 1013.46 759.10 C1021.94 759.10 1026.17 759.10 1034.65 759.10 C1043.13 759.10 1047.36 759.10 1055.84 759.10 C1064.32 759.10 1068.55 759.10 1077.03 759.10 C1085.51 759.10 1089.74 759.10 1098.22 759.10 C1106.70 759.10 1110.93 759.10 1119.41 759.10 C1127.89 759.10 1132.12 759.10 1140.60 759.10 C1149.08 759.10 1153.31 759.10 1161.79 759.10 C1170.27 759.10 1174.50 759.10 1182.98 759.10 C1191.46 759.10 1195.69 759.10 1204.17 759.10 C1212.65 759.10 1216.88 759.10 1225.36 759.10 C1233.84 759.10 1240.95 759.10 1246.55 759.10 C1257.90 749.11 1259.26 721.80 1267.74 721.80 C1276.22 721.80 1277.58 749.11 1288.93 759.10 C1294.53 759.10 1301.64 759.10 1310.12 759.10 C1318.60 759.10 1322.83 759.10 1331.31 759.10 C1339.79 759.10 1344.02 759.10 1352.50 759.10 C1360.98 759.10 1365.21 759.10 1373.69 759.10 C1382.17 759.10 1386.40 759.10 1394.88 759.10 C1403.36 759.10 1407.59 759.10 1416.07 759.10 C1424.55 759.10 1428.78 759.10 1437.26 759.10 L1437.26 759.10 L928.70 759.10 Z" fill="rgba(255,159,64,0.22)"/>
<path d="M928.70 728.01 C937.18 690.71 941.67 633.54 949.89 634.75 C958.63 636.03 958.25 696.58 971.08 734.23 C975.20 746.32 981.99 753.07 992.27 759.10 C998.94 759.10 1004.98 759.10 1013.46 759.10 C1021.94 759.10 1026.17 759.10 1034.65 759.10 C1043.13 759.10 1047.36 759.10 1055.84 759.10 C1064.32 759.10 1068.55 759.10 1077.03 759.10 C1085.51 759.10 1089.74 759.10 1098.22 759.10 C1106.70 759.10 1110.93 759.10 1119.41 759.10 C1127.89 759.10 1132.12 759.10 1140.60 759.10 C1149.08 759.10 1153.31 759.10 1161.79 759.10 C1170.27 759.10 1174.50 759.10 1182.98 759.10 C1191.46 759.10 1195.69 759.10 1204.17 759.10 C1212.65 759.10 1216.88 759.10 1225.36 759.10 C1233.84 759.10 1240.95 759.10 1246.55 759.10 C1257.90 749.11 1259.26 721.80 1267.74 721.80 C1276.22 721.80 1277.58 749.11 1288.93 759.10 C1294.53 759.10 1301.64 759.10 1310.12 759.10 C1318.60 759.10 1322.83 759.10 1331.31 759.10 C1339.79 759.10 1344.02 759.10 1352.50 759.10 C1360.98 759.10 1365.21 759.10 1373.69 759.10 C1382.17 759.10 1386.40 759.10 1394.88 759.10 C1403.36 759.10 1407.59 759.10 1416.07 759.10 C1424.55 759.10 1428.78 759.10 1437.26 759.10" fill="none" stroke="rgb(255,159,64)" stroke-width="1.2"/>
<path d="M928.70 759.10 C937.18 692.78 941.41 593.30 949.89 593.30 C958.37 593.30 956.04 700.24 971.08 759.10 C972.99 759.10 983.79 759.10 992.27 759.10 C1000.75 759.10 1004.98 759.10 1013.46 759.10 C1021.94 759.10 1026.17 759.10 1034.65 759.10 C1043.13 759.10 1053.22 759.10 1055.84 759.10 C1070.17 720.55 1068.55 645.11 1077.03 645.11 C1085.51 645.11 1083.89 720.55 1098.22 759.10 C1100.84 759.10 1110.93 759.10 1119.41 759.10 C1127.89 759.10 1132.12 759.10 1140.60 759.10 C1149.08 759.10 1153.31 759.10 1161.79 759.10 C1170.27 759.10 1174.50 759.10 1182.98 759.10 C1191.46 759.10 1195.69 759.10 1204.17 759.10 C1212.65 759.10 1216.88 759.10 1225.36 759.10 C1233.84 759.10 1238.07 759.10 1246.55 759.10 C1255.03 759.10 1259.26 759.10 1267.74 759.10 C1276.22 759.10 1280.45 759.10 1288.93 759.10 C1297.41 759.10 1301.64 759.10 1310.12 759.10 C1318.60 759.10 1322.83 759.10 1331.31 759.10 C1339.79 759.10 1344.02 759.10 1352.50 759.10 C1360.98 759.10 1365.21 759.10 1373.69 759.10 C1382.17 759.10 1386.40 759.10 1394.88 759.10 C1403.36 759.10 1407.59 759.10 1416.07 759.10 C1424.55 759.10 1428.78 759.10 1437.26 759.10 L1437.26 759.10 L928.70 759.10 Z" fill="rgba(75,192,192,0.22)"/>
<path d="M928.70 759.10 C937.18 692.78 941.41 593.30 949.89 593.30 C958.37 593.30 956.04 700.24 971.08 759.10 C972.99 759.10 983.79 759.10 992.27 759.10 C1000.75 759.10 1004.98 759.10 1013.46 759.10 C1021.94 759.10 1026.17 759.10 1034.65 759.10 C1043.13 759.10 1053.22 759.10 1055.84 759.10 C1070.17 720.55 1068.55 645.11 1077.03 645.11 C1085.51 645.11 1083.89 720.55 1098.22 759.10 C1100.84 759.10 1110.93 759.10 1119.41 759.10 C1127.89 759.10 1132.12 759.10 1140.60 759.10 C1149.08 759.10 1153.31 759.10 1161.79 759.10 C1170.27 759.10 1174.50 759.10 1182.98 759.10 C1191.46 759.10 1195.69 759.10 1204.17 759.10 C1212.65 759.10 1216.88 759.10 1225.36 759.10 C1233.84 759.10 1238.07 759.10 1246.55 759.10 C1255.03 759.10 1259.26 759.10 1267.74 759.10 C1276.22 759.10 1280.45 759.10 1288.93 759.10 C1297.41 759.10 1301.64 759.10 1310.12 759.10 C1318.60 759.10 1322.83 759.10 1331.31 759.10 C1339.79 759.10 1344.02 759.10 1352.50 759.10 C1360.98 759.10 1365.21 759.10 1373.69 759.10 C1382.17 759.10 1386.40 759.10 1394.88 759.10 C1403.36 759.10 1407.59 759.10 1416.07 759.10 C1424.55 759.10 1428.78 759.10 1437.26 759.10" fill="none" stroke="rgb(75,192,192)" stroke-width="1.2"/>
<circle cx="928.70" cy="728.01" r="2.6" fill="rgba(255,159,64,0.2)" stroke="rgb(255,159,64)" stroke-width="0.9"/>
<circle cx="949.89" cy="634.75" r="2.6" fill="rgba(255,159,64,0.2)" stroke="rgb(255,159,64)" stroke-width="0.9"/>
<circle cx="971.08" cy="734.23" r="2.6" fill="rgba(255,159,64,0.2)" stroke="rgb(255,159,64)" stroke-width="0.9"/>
<circle cx="992.27" cy="759.10" r="2.6" fill="rgba(255,159,64,0.2)" stroke="rgb(255,159,64)" stroke-width="0.9"/>
<circle cx="1013.46" cy="759.10" r="2.6" fill="rgba(255,159,64,0.2)" stroke="rgb(255,159,64)" stroke-width="0.9"/>
<circle cx="1034.65" cy="759.10" r="2.6" fill="rgba(255,159,64,0.2)" stroke="rgb(255,159,64)" stroke-width="0.9"/>
<circle cx="1055.84" cy="759.10" r="2.6" fill="rgba(255,159,64,0.2)" stroke="rgb(255,159,64)" stroke-width="0.9"/>
<circle cx="1077.03" cy="759.10" r="2.6" fill="rgba(255,159,64,0.2)" stroke="rgb(255,159,64)" stroke-width="0.9"/>
<circle cx="1098.22" cy="759.10" r="2.6" fill="rgba(255,159,64,0.2)" stroke="rgb(255,159,64)" stroke-width="0.9"/>
<circle cx="1119.41" cy="759.10" r="2.6" fill="rgba(255,159,64,0.2)" stroke="rgb(255,159,64)" stroke-width="0.9"/>
<circle cx="1140.60" cy="759.10" r="2.6" fill="rgba(255,159,64,0.2)" stroke="rgb(255,159,64)" stroke-width="0.9"/>
<circle cx="1161.79" cy="759.10" r="2.6" fill="rgba(255,159,64,0.2)" stroke="rgb(255,159,64)" stroke-width="0.9"/>
<circle cx="1182.98" cy="759.10" r="2.6" fill="rgba(255,159,64,0.2)" stroke="rgb(255,159,64)" stroke-width="0.9"/>
<circle cx="1204.17" cy="759.10" r="2.6" fill="rgba(255,159,64,0.2)" stroke="rgb(255,159,64)" stroke-width="0.9"/>
<circle cx="1225.36" cy="759.10" r="2.6" fill="rgba(255,159,64,0.2)" stroke="rgb(255,159,64)" stroke-width="0.9"/>
<circle cx="1246.55" cy="759.10" r="2.6" fill="rgba(255,159,64,0.2)" stroke="rgb(255,159,64)" stroke-width="0.9"/>
<circle cx="1267.74" cy="721.80" r="2.6" fill="rgba(255,159,64,0.2)" stroke="rgb(255,159,64)" stroke-width="0.9"/>
<circle cx="1288.93" cy="759.10" r="2.6" fill="rgba(255,159,64,0.2)" stroke="rgb(255,159,64)" stroke-width="0.9"/>
<circle cx="1310.12" cy="759.10" r="2.6" fill="rgba(255,159,64,0.2)" stroke="rgb(255,159,64)" stroke-width="0.9"/>
<circle cx="1331.31" cy="759.10" r="2.6" fill="rgba(255,159,64,0.2)" stroke="rgb(255,159,64)" stroke-width="0.9"/>
<circle cx="1352.50" cy="759.10" r="2.6" fill="rgba(255,159,64,0.2)" stroke="rgb(255,159,64)" stroke-width="0.9"/>
<circle cx="1373.69" cy="759.10" r="2.6" fill="rgba(255,159,64,0.2)" stroke="rgb(255,159,64)" stroke-width="0.9"/>
<circle cx="1394.88" cy="759.10" r="2.6" fill="rgba(255,159,64,0.2)" stroke="rgb(255,159,64)" stroke-width="0.9"/>
<circle cx="1416.07" cy="759.10" r="2.6" fill="rgba(255,159,64,0.2)" stroke="rgb(255,159,64)" stroke-width="0.9"/>
<circle cx="1437.26" cy="759.10" r="2.6" fill="rgba(255,159,64,0.2)" stroke="rgb(255,159,64)" stroke-width="0.9"/>
<circle cx="928.70" cy="759.10" r="2.6" fill="rgba(75,192,192,0.2)" stroke="rgb(75,192,192)" stroke-width="0.9"/>
<circle cx="949.89" cy="593.30" r="2.6" fill="rgba(75,192,192,0.2)" stroke="rgb(75,192,192)" stroke-width="0.9"/>
<circle cx="971.08" cy="759.10" r="2.6" fill="rgba(75,192,192,0.2)" stroke="rgb(75,192,192)" stroke-width="0.9"/>
<circle cx="992.27" cy="759.10" r="2.6" fill="rgba(75,192,192,0.2)" stroke="rgb(75,192,192)" stroke-width="0.9"/>
<circle cx="1013.46" cy="759.10" r="2.6" fill="rgba(75,192,192,0.2)" stroke="rgb(75,192,192)" stroke-width="0.9"/>
<circle cx="1034.65" cy="759.10" r="2.6" fill="rgba(75,192,192,0.2)" stroke="rgb(75,192,192)" stroke-width="0.9"/>
<circle cx="1055.84" cy="759.10" r="2.6" fill="rgba(75,192,192,0.2)" stroke="rgb(75,192,192)" stroke-width="0.9"/>
<circle cx="1077.03" cy="645.11" r="2.6" fill="rgba(75,192,192,0.2)" stroke="rgb(75,192,192)" stroke-width="0.9"/>
<circle cx="1098.22" cy="759.10" r="2.6" fill="rgba(75,192,192,0.2)" stroke="rgb(75,192,192)" stroke-width="0.9"/>
<circle cx="1119.41" cy="759.10" r="2.6" fill="rgba(75,192,192,0.2)" stroke="rgb(75,192,192)" stroke-width="0.9"/>
<circle cx="1140.60" cy="759.10" r="2.6" fill="rgba(75,192,192,0.2)" stroke="rgb(75,192,192)" stroke-width="0.9"/>
<circle cx="1161.79" cy="759.10" r="2.6" fill="rgba(75,192,192,0.2)" stroke="rgb(75,192,192)" stroke-width="0.9"/>
<circle cx="1182.98" cy="759.10" r="2.6" fill="rgba(75,192,192,0.2)" stroke="rgb(75,192,192)" stroke-width="0.9"/>
<circle cx="1204.17" cy="759.10" r="2.6" fill="rgba(75,192,192,0.2)" stroke="rgb(75,192,192)" stroke-width="0.9"/>
<circle cx="1225.36" cy="759.10" r="2.6" fill="rgba(75,192,192,0.2)" stroke="rgb(75,192,192)" stroke-width="0.9"/>
<circle cx="1246.55" cy="759.10" r="2.6" fill="rgba(75,192,192,0.2)" stroke="rgb(75,192,192)" stroke-width="0.9"/>
<circle cx="1267.74" cy="759.10" r="2.6" fill="rgba(75,192,192,0.2)" stroke="rgb(75,192,192)" stroke-width="0.9"/>
<circle cx="1288.93" cy="759.10" r="2.6" fill="rgba(75,192,192,0.2)" stroke="rgb(75,192,192)" stroke-width="0.9"/>
<circle cx="1310.12" cy="759.10" r="2.6" fill="rgba(75,192,192,0.2)" stroke="rgb(75,192,192)" stroke-width="0.9"/>
<circle cx="1331.31" cy="759.10" r="2.6" fill="rgba(75,192,192,0.2)" stroke="rgb(75,192,192)" stroke-width="0.9"/>
<circle cx="1352.50" cy="759.10" r="2.6" fill="rgba(75,192,192,0.2)" stroke="rgb(75,192,192)" stroke-width="0.9"/>
<circle cx="1373.69" cy="759.10" r="2.6" fill="rgba(75,192,192,0.2)" stroke="rgb(75,192,192)" stroke-width="0.9"/>
<circle cx="1394.88" cy="759.10" r="2.6" fill="rgba(75,192,192,0.2)" stroke="rgb(75,192,192)" stroke-width="0.9"/>
<circle cx="1416.07" cy="759.10" r="2.6" fill="rgba(75,192,192,0.2)" stroke="rgb(75,192,192)" stroke-width="0.9"/>
<circle cx="1437.26" cy="759.10" r="2.6" fill="rgba(75,192,192,0.2)" stroke="rgb(75,192,192)" stroke-width="0.9"/>
<rect x="1110.2" y="576.4" width="29.6" height="8.8" fill="rgba(75,192,192,0.2)" stroke="rgb(75,192,192)" stroke-width="0.9"/>
<text x="1144.7" y="584.2" class="ax">Loja 1</text>
<rect x="1176.8" y="576.4" width="29.8" height="8.8" fill="rgba(255,159,64,0.2)" stroke="rgb(255,159,64)" stroke-width="0.9"/>
<text x="1211.2" y="584.2" class="ax">Loja 2</text></svg>
</body></html>
